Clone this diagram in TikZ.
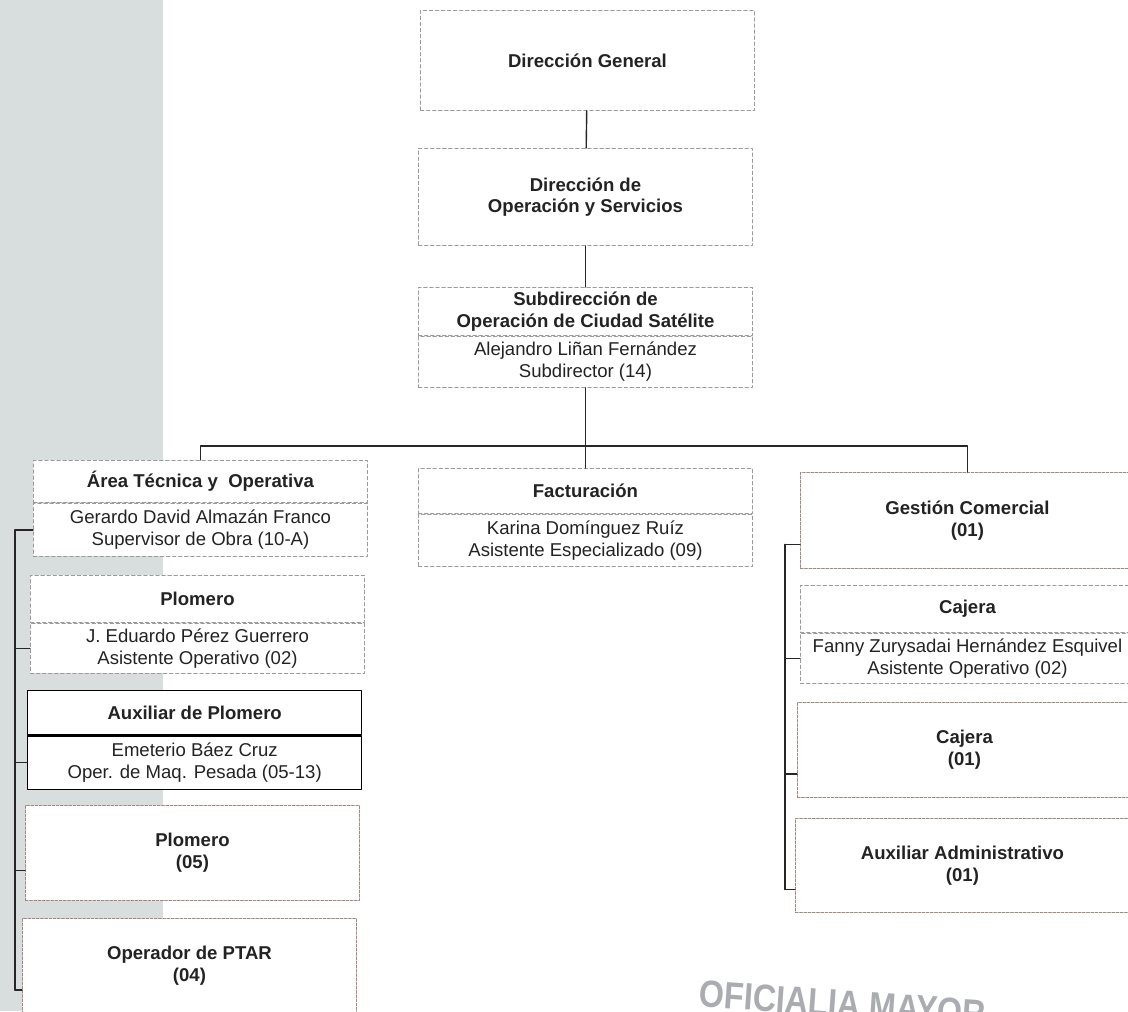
\documentclass[tikz,border=0pt]{standalone}
\usepackage{fontspec}
\setmainfont{Liberation Sans}
\usetikzlibrary{positioning}
\definecolor{fondo}{RGB}{216,221,221}
\definecolor{borde}{RGB}{155,155,155}
\definecolor{borderojo}{RGB}{165,135,130}
\definecolor{tinta}{RGB}{35,35,35}
\definecolor{sellogris}{RGB}{170,172,178}
\newcommand{\letra}{\fontsize{13.2}{15.5}\selectfont}
\tikzset{
  caja/.style={draw=borde, dash pattern=on 2.5pt off 1.8pt, line width=0.6pt, fill=white,
    minimum width=8.35cm, align=center, inner sep=1pt, text=tinta, font=\letra},
  titulo/.style={caja, font=\letra\bfseries},
  cuerpo/.style={caja},
  rojiza/.style={draw=borderojo, dash pattern=on 2pt off 1pt},
  solida/.style={solid, draw=black, line width=0.9pt},
  linea/.style={line width=1pt, draw=black!85},
  marca/.style={text=sellogris, font=\fontsize{27}{30}\selectfont\bfseries, inner sep=0pt}
}
\begin{document}
\begin{tikzpicture}[line join=round, line cap=round, x=0.025cm, y=-0.025cm]
	%Límites y fondo.
	\useasboundingbox (0,0) rectangle (1128,1011);
	\fill[fondo] (0,0) rectangle (163,1011);
	%Sello.
	\begin{scope}
		\clip (0,0) rectangle (1128,1011);
		\node[marca, anchor=north west, rotate=-4, xscale=0.85] (ofi) at (700,980) {OFICIALIA MAYOR};
	\end{scope}
	%Dirección.
	\node[titulo, anchor=north west, minimum height=2.5cm] (dg) at (420,10) {Dirección General};
	\node[titulo, anchor=north west, minimum height=2.43cm] (dos) at (418,148) {Dirección de\\Operación y Servicios};
	\node[titulo, anchor=north west, minimum height=1.2cm] (sub) at (418,287) {Subdirección de\\Operación de Ciudad Satélite};
	\node[cuerpo, below=0pt of sub, minimum height=1.28cm] (sub2) {Alejandro Liñan Fernández\\Subdirector (14)};
	%Área técnica.
	\node[titulo, anchor=north west, minimum height=1.05cm] (are) at (33,460) {Área Técnica y~ Operativa};
	\node[cuerpo, below=0pt of are, minimum height=1.33cm] (are2) {Gerardo David Almazán Franco\\Supervisor de Obra (10-A)};
	\node[titulo, anchor=north west, minimum height=1.18cm] (plo) at (30,575) {Plomero};
	\node[cuerpo, below=0pt of plo, minimum height=1.25cm] (plo2) {J. Eduardo Pérez Guerrero\\Asistente Operativo (02)};
	\node[titulo, solida, anchor=north west, minimum height=1.1cm] (aux) at (27,690) {Auxiliar de Plomero};
	\node[cuerpo, solida, below=0pt of aux, minimum height=1.33cm] (aux2) {Emeterio Báez Cruz\\Oper. de Maq. Pesada (05-13)};
	\node[titulo, rojiza, anchor=north west, minimum height=2.38cm] (plo5) at (25,805) {Plomero\\(05)};
	\node[titulo, rojiza, anchor=north west, minimum height=2.38cm] (opt) at (22,918) {Operador de PTAR\\(04)};
	%Facturación.
	\node[titulo, anchor=north west, minimum height=1.13cm] (fac) at (418,468) {Facturación};
	\node[cuerpo, below=0pt of fac, minimum height=1.3cm] (fac2) {Karina Domínguez Ruíz\\Asistente Especializado (09)};
	%Gestión comercial.
	\node[titulo, rojiza, anchor=north west, minimum height=2.4cm] (ges) at (800,472) {Gestión Comercial\\(01)};
	\node[titulo, anchor=north west, minimum height=1.18cm] (caj) at (800,585) {Cajera};
	\node[cuerpo, below=0pt of caj, minimum height=1.25cm] (caj2) {Fanny Zurysadai Hernández Esquivel\\Asistente Operativo (02)};
	\node[titulo, rojiza, anchor=north west, minimum height=2.38cm] (caj3) at (797,702) {Cajera\\(01)};
	\node[titulo, rojiza, anchor=north west, minimum height=2.35cm] (adm) at (795,818) {Auxiliar Administrativo\\(01)};
	%Líneas de mando.
	\coordinate (bus) at (585,446);
	\draw[linea] (dg) -- (dos);
	\draw[linea] (dos) -- (sub);
	\draw[linea] (sub2) -- (fac);
	\draw[linea] (are) |- (bus) -| (ges);
	%Corchete izquierdo.
	\coordinate (bi) at (15,0);
	\coordinate (t1) at (are2.west);
	\coordinate (t2) at (plo2.west);
	\coordinate (t3) at (aux2.west);
	\coordinate (t4) at ([yshift=-0.43cm]plo5.west);
	\coordinate (t5) at ([yshift=-0.6cm]opt.west);
	\draw[linea] (t1 -| bi) -- (t5 -| bi);
	\foreach \t in {t1,t2,t3,t4,t5} \draw[linea] (\t -| bi) -- (\t);
	%Corchete derecho.
	\coordinate (bd) at (785,0);
	\coordinate (r1) at ([yshift=-0.6cm]ges.west);
	\coordinate (r2) at (caj2.west);
	\coordinate (r3) at ([yshift=-0.6cm]caj3.west);
	\coordinate (r4) at ([yshift=-0.6cm]adm.west);
	\draw[linea] (r1 -| bd) -- (r4 -| bd);
	\foreach \t in {r1,r2,r3,r4} \draw[linea] (\t -| bd) -- (\t);
\end{tikzpicture}
\end{document}
